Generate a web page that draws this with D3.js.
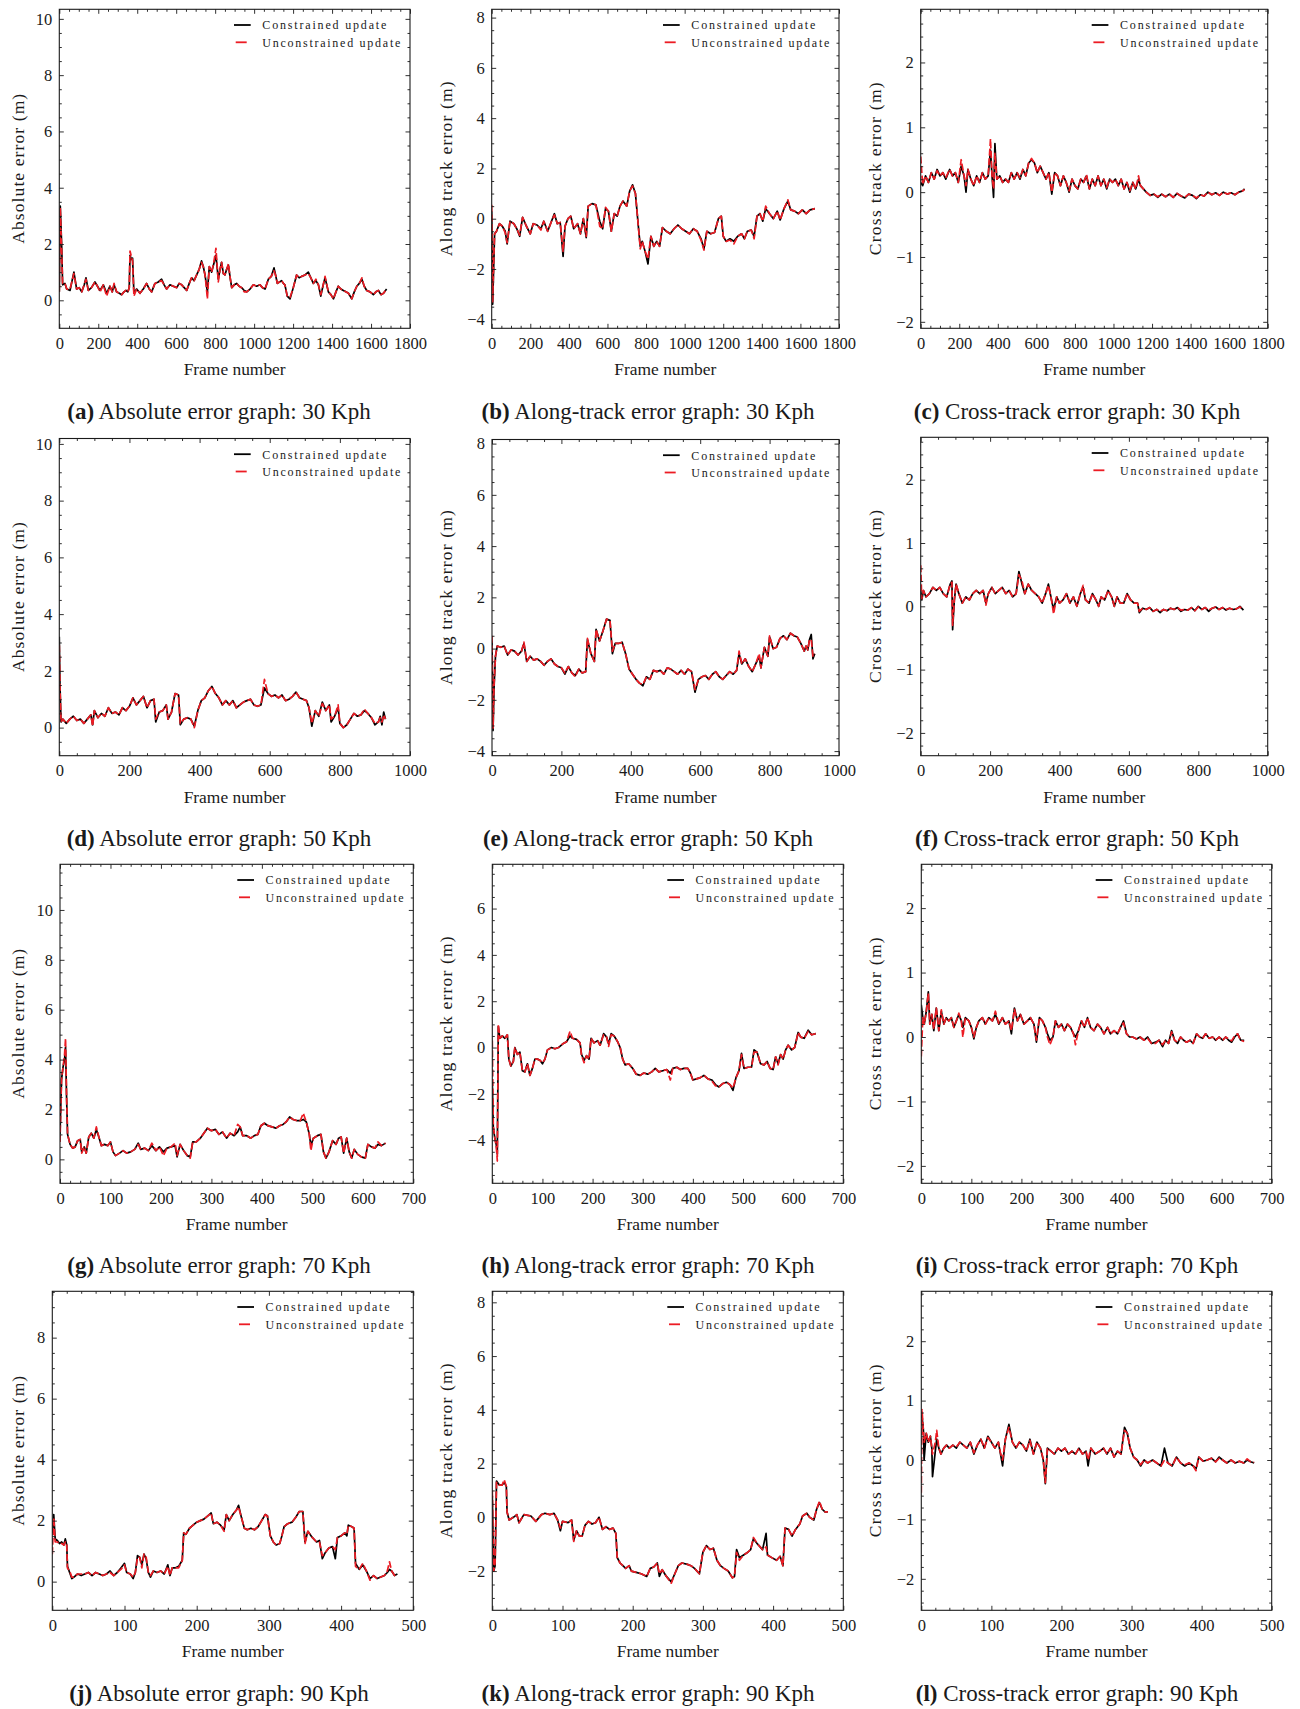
<!DOCTYPE html>
<html>
<head>
<meta charset="utf-8">
<script src="https://cdn.jsdelivr.net/npm/d3@7"></script>
<style>
  body { margin: 0; background: #fff; }
  svg text { font-family: "Liberation Serif", "Times New Roman", serif; fill: #1a1a1a; }
</style>
</head>
<body>
<svg id="fig" width="1300" height="1709"></svg>
<script>
// ---------- tick values ----------
const xTicks1800 = [0, 200, 400, 600, 800, 1000, 1200, 1400, 1600, 1800];
const xTicks1000 = [0, 200, 400, 600, 800, 1000];
const xTicks700 = [0, 100, 200, 300, 400, 500, 600, 700];
const xTicks500 = [0, 100, 200, 300, 400, 500];
const yTicksAbs10 = [0, 2, 4, 6, 8, 10];
const yTicksAbs8 = [0, 2, 4, 6, 8];
const yTicksAlong8 = [-4, -2, 0, 2, 4, 6, 8];
const yTicksAlong6 = [-4, -2, 0, 2, 4, 6];
const yTicksAlong90 = [-2, 0, 2, 4, 6, 8];
const yTicksCross = [-2, -1, 0, 1, 2];

// ---------- labels ----------
const seriesNames = ["Constrained update", "Unconstrained update"];
const yLabels = ["Absolute error (m)", "Along track error (m)", "Cross track error (m)"];
const xLabel = "Frame number";
const captionTags = ["(a)", "(b)", "(c)", "(d)", "(e)", "(f)", "(g)", "(h)", "(i)", "(j)", "(k)", "(l)"];
const captionTexts = [
  "Absolute error graph: 30 Kph", "Along-track error graph: 30 Kph", "Cross-track error graph: 30 Kph",
  "Absolute error graph: 50 Kph", "Along-track error graph: 50 Kph", "Cross-track error graph: 50 Kph",
  "Absolute error graph: 70 Kph", "Along-track error graph: 70 Kph", "Cross-track error graph: 70 Kph",
  "Absolute error graph: 90 Kph", "Along-track error graph: 90 Kph", "Cross-track error graph: 90 Kph"
];

// ---------- 30 Kph: absolute error ----------
const framesA = [
  0,5,12,17,29,38,55,75,89,102,
  115,128,137,149,165,183,196,209,226,243,
  260,272,281,294,308,320,332,342,352,359,
  363,370,376,383,397,414,431,448,462,474,
  491,508,525,538,551,568,585,603,615,628,
  641,654,667,679,692,705,718,730,739,748,
  754,760,770,782,793,804,816,825,833,842,
  850,859,868,877,885,898,910,923,936,949,
  962,979,996,1013,1030,1043,1056,1073,1088,1102,
  1110,1119,1130,1141,1150,1158,1170,1184,1201,1218,
  1231,1244,1261,1278,1291,1304,1317,1330,1342,1353,
  1364,1381,1394,1407,1420,1432,1445,1458,1471,1484,
  1501,1514,1527,1540,1553,1565,1578,1595,1612,1625,
  1638,1651,1664,1680];
const constrainedA = [
  0.3,3.35,2.0,0.55,0.6,0.4,0.35,1.0,0.4,0.45,
  0.3,0.55,0.8,0.35,0.45,0.65,0.5,0.35,0.55,0.25,
  0.5,0.3,0.55,0.3,0.25,0.2,0.3,0.35,0.3,0.45,
  1.6,1.45,1.5,0.25,0.4,0.25,0.4,0.6,0.4,0.3,
  0.6,0.65,0.75,0.55,0.4,0.55,0.5,0.45,0.6,0.55,
  0.45,0.35,0.6,0.8,0.7,0.9,1.1,1.4,1.2,0.9,
  0.6,0.3,1.2,1.0,1.3,1.6,0.75,1.1,1.35,0.95,
  0.9,1.1,1.25,0.8,0.45,0.55,0.6,0.5,0.45,0.35,
  0.3,0.4,0.55,0.5,0.55,0.45,0.4,0.75,0.85,1.15,
  0.9,0.6,0.65,0.7,0.6,0.55,0.15,0.05,0.45,0.9,
  0.8,0.85,0.9,1.0,0.8,0.6,0.7,0.55,0.15,0.5,
  0.8,0.3,0.2,0.05,0.3,0.5,0.4,0.35,0.3,0.25,
  0.05,0.3,0.5,0.6,0.75,0.5,0.35,0.3,0.2,0.3,
  0.35,0.2,0.25,0.4];
const unconstrainedA = [
  0.3,3.3,1.8,0.6,0.6,0.4,0.4,0.95,0.4,0.45,
  0.3,0.55,0.75,0.35,0.45,0.65,0.5,0.3,0.55,0.15,
  0.5,0.3,0.6,0.3,0.25,0.2,0.3,0.35,0.3,0.45,
  1.75,1.55,1.4,0.15,0.4,0.25,0.4,0.6,0.4,0.3,
  0.6,0.65,0.7,0.55,0.4,0.55,0.5,0.45,0.6,0.55,
  0.45,0.35,0.6,0.8,0.7,0.9,1.1,1.35,1.2,0.9,
  0.5,0.05,1.2,1.0,1.35,1.85,0.65,1.1,1.35,0.95,
  0.9,1.1,1.3,0.8,0.45,0.55,0.6,0.5,0.45,0.3,
  0.3,0.4,0.55,0.5,0.55,0.45,0.4,0.75,0.85,1.05,
  0.9,0.6,0.65,0.7,0.6,0.55,0.15,0.1,0.45,0.9,
  0.8,0.85,0.9,0.95,0.8,0.6,0.75,0.55,0.2,0.5,
  0.85,0.3,0.2,0.05,0.3,0.5,0.4,0.35,0.3,0.25,
  0.05,0.3,0.5,0.6,0.8,0.5,0.35,0.3,0.2,0.3,
  0.35,0.2,0.25,0.4];

// ---------- 30 Kph: along-track error ----------
const framesB = [
  0,5,10,15,25,40,55,70,80,95,
  115,130,145,160,180,200,215,235,255,270,
  290,310,325,340,355,370,380,395,410,425,
  445,460,475,490,500,520,540,560,575,590,
  605,620,635,650,665,680,700,715,730,745,
  760,770,780,795,810,825,840,855,870,885,
  905,925,945,965,985,1005,1025,1045,1065,1085,
  1100,1115,1135,1155,1175,1190,1200,1215,1235,1255,
  1275,1295,1310,1325,1345,1360,1375,1390,1405,1420,
  1440,1460,1480,1495,1515,1535,1550,1570,1590,1610,
  1630,1650,1675];
const constrainedB = [
  0.3,-3.4,-2.0,-0.6,-0.5,-0.2,-0.3,-0.5,-1.0,-0.1,
  -0.2,-0.4,-0.7,0.05,-0.3,-0.6,-0.2,-0.25,-0.4,-0.1,
  -0.5,-0.1,0.2,-0.2,-0.15,-1.5,-0.3,0.0,0.1,-0.4,
  -0.2,-0.6,0.0,-0.75,0.5,0.6,0.55,-0.1,-0.4,0.4,
  0.3,-0.5,0.2,0.1,0.5,0.7,0.5,1.1,1.35,1.0,
  -0.3,-1.1,-0.9,-1.3,-1.8,-0.7,-1.1,-0.9,-1.1,-0.35,
  -0.5,-0.6,-0.4,-0.25,-0.4,-0.5,-0.6,-0.4,-0.5,-0.8,
  -1.2,-0.5,-0.6,-0.55,0.0,0.1,-0.7,-0.9,-0.8,-0.9,
  -0.7,-0.6,-0.8,-0.5,-0.45,-0.7,0.1,0.2,-0.1,0.4,
  0.2,0.0,0.3,-0.05,0.4,0.7,0.35,0.3,0.2,0.35,
  0.2,0.35,0.4];
const unconstrainedB = [
  0.55,-3.3,-1.8,-0.6,-0.5,-0.2,-0.3,-0.55,-0.95,-0.1,
  -0.2,-0.4,-0.65,0.05,-0.3,-0.6,-0.2,-0.25,-0.45,-0.1,
  -0.5,-0.1,0.15,-0.2,-0.15,-1.3,-0.3,0.0,0.1,-0.4,
  -0.2,-0.6,0.0,-0.7,0.5,0.6,0.55,-0.3,-0.4,0.45,
  0.3,-0.5,0.2,0.1,0.5,0.7,0.5,1.1,1.3,1.0,
  -0.3,-1.2,-0.9,-1.3,-1.6,-0.7,-1.1,-0.9,-1.1,-0.35,
  -0.5,-0.6,-0.4,-0.25,-0.4,-0.5,-0.6,-0.4,-0.5,-0.85,
  -1.25,-0.5,-0.6,-0.55,0.0,0.1,-0.7,-0.9,-0.85,-1.0,
  -0.7,-0.6,-0.8,-0.5,-0.45,-0.8,0.1,0.2,-0.1,0.5,
  0.2,0.0,0.3,-0.05,0.4,0.75,0.35,0.3,0.2,0.35,
  0.2,0.35,0.4];

// ---------- 30 Kph: cross-track error ----------
const framesC = [
  0,10,25,40,55,70,85,100,115,130,
  150,165,180,195,210,225,235,245,260,275,
  290,305,320,335,350,362,370,378,385,395,
  410,425,440,455,470,485,500,515,530,545,
  560,575,590,605,620,635,650,665,680,695,
  710,725,740,755,770,785,800,815,830,845,
  860,875,890,905,920,935,950,965,980,995,
  1010,1025,1040,1055,1070,1085,1100,1115,1130,1140,
  1155,1170,1190,1210,1230,1250,1270,1290,1310,1330,
  1350,1370,1390,1410,1430,1450,1470,1490,1510,1530,
  1550,1570,1590,1610,1630,1650,1670,1680];
const constrainedC = [
  0.15,0.1,0.25,0.15,0.3,0.2,0.35,0.25,0.3,0.2,
  0.35,0.25,0.3,0.15,0.4,0.25,0.0,0.35,0.2,0.1,
  0.25,0.15,0.3,0.2,0.25,0.65,0.25,-0.08,0.75,0.2,
  0.25,0.15,0.2,0.15,0.3,0.2,0.3,0.2,0.35,0.25,
  0.45,0.5,0.45,0.3,0.4,0.3,0.2,0.3,-0.03,0.3,
  0.25,0.1,0.25,0.15,0.0,0.2,0.1,0.05,0.2,0.15,
  0.25,0.05,0.2,0.1,0.25,0.1,0.2,0.05,0.2,0.15,
  0.2,0.1,0.2,0.05,0.15,0.0,0.15,0.05,0.2,0.1,
  0.05,0.0,-0.05,-0.03,-0.08,-0.03,-0.07,-0.03,-0.08,-0.02,
  -0.06,-0.09,-0.03,-0.05,-0.1,-0.04,-0.06,0.0,-0.04,-0.01,
  -0.05,0.0,-0.03,-0.01,-0.04,0.0,0.02,0.05];
const unconstrainedC = [
  0.55,0.12,0.25,0.15,0.3,0.2,0.33,0.25,0.3,0.22,
  0.35,0.25,0.3,0.15,0.5,0.25,0.1,0.35,0.2,0.1,
  0.25,0.15,0.3,0.2,0.25,0.82,0.25,0.05,0.6,0.2,
  0.25,0.15,0.2,0.15,0.3,0.2,0.3,0.22,0.35,0.25,
  0.45,0.52,0.45,0.3,0.4,0.3,0.2,0.3,0.0,0.3,
  0.25,0.1,0.25,0.15,0.02,0.2,0.1,0.05,0.2,0.15,
  0.27,0.05,0.2,0.1,0.25,0.1,0.2,0.07,0.2,0.15,
  0.2,0.1,0.2,0.05,0.15,0.02,0.15,0.05,0.25,0.1,
  0.05,0.0,-0.05,-0.03,-0.07,-0.03,-0.07,-0.03,-0.08,-0.02,
  -0.06,-0.08,-0.03,-0.05,-0.09,-0.04,-0.06,0.0,-0.04,-0.01,
  -0.05,0.0,-0.03,-0.01,-0.04,0.0,0.02,0.04];

// ---------- 50 Kph: absolute error ----------
const framesD = [
  0,2,5,10,20,30,40,50,60,70,
  80,90,95,100,110,120,130,140,150,160,
  170,180,190,200,210,220,230,240,250,260,
  270,275,285,295,305,310,320,330,340,345,
  355,365,375,385,395,405,415,425,435,445,
  455,465,475,485,495,505,515,525,535,545,
  555,565,575,585,595,605,615,625,635,645,
  655,665,675,685,695,705,712,720,730,740,
  750,760,770,775,785,795,800,810,820,830,
  840,850,860,870,880,890,900,910,915,920,
  925,930];
const constrainedD = [
  3.2,1.5,0.2,0.3,0.15,0.3,0.4,0.25,0.3,0.15,
  0.3,0.45,0.1,0.6,0.35,0.5,0.4,0.7,0.5,0.55,
  0.45,0.7,0.6,0.75,1.05,0.8,0.95,1.1,0.7,0.95,
  1.0,0.2,0.55,0.6,0.8,0.3,0.55,1.2,1.15,0.1,
  0.3,0.35,0.3,0.05,0.6,0.95,1.05,1.3,1.45,1.2,
  1.05,0.8,0.95,0.8,0.95,0.7,0.8,0.9,0.95,1.0,
  0.8,0.75,0.8,1.4,1.2,1.1,1.15,1.05,1.15,0.95,
  1.0,1.1,1.25,1.05,1.0,0.95,0.7,0.05,0.6,0.4,
  0.9,0.6,0.8,0.2,0.4,0.7,0.15,0.0,0.1,0.3,
  0.5,0.4,0.45,0.6,0.5,0.35,0.1,0.2,0.4,0.1,
  0.55,0.3];
const unconstrainedD = [
  2.9,1.4,0.2,0.3,0.15,0.3,0.4,0.25,0.3,0.15,
  0.3,0.45,0.05,0.6,0.35,0.5,0.4,0.7,0.5,0.55,
  0.45,0.7,0.6,0.75,1.05,0.8,0.95,1.1,0.7,0.95,
  1.0,0.3,0.55,0.6,0.8,0.3,0.55,1.2,1.15,0.15,
  0.3,0.35,0.3,0.0,0.6,0.95,1.05,1.3,1.45,1.2,
  1.05,0.8,0.95,0.8,0.95,0.7,0.8,0.9,0.95,1.0,
  0.8,0.75,0.8,1.7,1.2,1.1,1.15,1.05,1.15,0.95,
  1.0,1.1,1.25,1.05,1.0,0.95,0.7,0.15,0.6,0.4,
  0.85,0.6,0.8,0.3,0.4,0.8,0.15,0.0,0.1,0.3,
  0.5,0.4,0.45,0.65,0.5,0.35,0.15,0.2,0.35,0.2,
  0.45,0.3];

// ---------- 50 Kph: along-track error ----------
const framesE = [
  0,3,6,10,15,25,35,45,55,65,
  75,85,92,100,110,120,130,140,150,160,
  170,180,190,200,210,220,230,240,250,260,
  270,275,285,295,300,310,320,330,340,347,
  355,365,375,385,395,405,415,425,435,445,
  455,465,475,485,495,505,515,525,535,545,
  555,565,575,585,595,605,615,625,635,645,
  655,665,675,685,695,705,712,720,730,740,
  750,760,770,775,785,795,800,810,820,830,
  840,850,860,870,880,890,900,905,910,915,
  920,925,930];
const constrainedE = [
  0.3,-3.2,-1.5,-0.3,0.1,0.05,0.1,-0.25,-0.05,-0.1,
  -0.25,-0.1,0.2,-0.5,-0.3,-0.45,-0.4,-0.5,-0.65,-0.5,
  -0.4,-0.6,-0.7,-0.75,-1.0,-0.7,-0.95,-1.05,-0.8,-0.95,
  -0.9,0.35,-0.2,-0.5,0.75,0.3,0.7,1.15,1.1,-0.2,
  0.2,0.2,0.25,-0.2,-0.8,-1.0,-1.2,-1.35,-1.45,-1.1,
  -1.2,-0.85,-0.9,-0.85,-1.0,-0.75,-0.8,-0.9,-1.0,-0.85,
  -1.0,-0.8,-0.9,-1.7,-1.2,-1.1,-1.05,-1.2,-1.0,-0.9,
  -1.1,-1.2,-1.05,-0.9,-1.0,-0.85,-0.2,-0.6,-0.4,-0.7,
  -0.9,-0.6,-0.3,-0.75,0.05,-0.3,0.45,0.0,0.05,0.4,
  0.5,0.35,0.6,0.5,0.45,0.2,-0.1,0.1,-0.05,0.35,
  0.55,-0.4,-0.2];
const unconstrainedE = [
  0.5,-3.1,-1.4,-0.3,0.1,0.05,0.1,-0.25,-0.05,-0.1,
  -0.25,-0.1,0.25,-0.5,-0.3,-0.45,-0.4,-0.5,-0.65,-0.5,
  -0.4,-0.6,-0.7,-0.75,-0.95,-0.7,-0.95,-1.1,-0.8,-0.95,
  -0.9,0.4,-0.2,-0.5,0.75,0.3,0.7,1.15,1.1,-0.1,
  0.2,0.2,0.25,-0.2,-0.8,-1.0,-1.2,-1.35,-1.4,-1.1,
  -1.2,-0.85,-0.9,-0.85,-1.0,-0.75,-0.8,-0.9,-1.0,-0.85,
  -1.0,-0.8,-0.9,-1.6,-1.2,-1.1,-1.05,-1.2,-1.0,-0.9,
  -1.1,-1.2,-1.05,-0.9,-1.0,-0.85,-0.1,-0.6,-0.4,-0.7,
  -0.9,-0.6,-0.2,-0.75,0.05,-0.3,0.5,0.0,0.05,0.4,
  0.5,0.35,0.6,0.5,0.45,0.2,-0.1,0.1,-0.05,0.35,
  0.35,-0.3,-0.2];

// ---------- 50 Kph: cross-track error ----------
const framesF = [
  0,3,8,15,25,35,45,55,65,75,
  85,90,92,97,102,110,120,130,140,150,
  160,170,180,188,195,205,215,225,235,245,
  255,265,275,283,292,300,310,320,330,340,
  350,360,368,377,383,392,400,410,420,430,
  440,450,460,468,475,485,495,505,513,520,
  530,540,550,558,566,575,585,595,605,615,
  625,630,640,650,660,670,680,690,700,710,
  720,730,740,750,760,770,780,790,800,810,
  820,830,840,850,860,870,880,890,900,910,
  920,930];
const constrainedF = [
  0.25,0.1,0.25,0.15,0.2,0.3,0.25,0.3,0.2,0.15,
  0.35,0.4,-0.37,0.1,0.35,0.2,0.05,0.15,0.1,0.2,
  0.25,0.2,0.25,0.05,0.2,0.3,0.2,0.25,0.3,0.2,
  0.25,0.15,0.2,0.55,0.35,0.2,0.35,0.25,0.2,0.15,
  0.05,0.2,0.35,0.1,-0.05,0.15,0.05,0.1,0.2,0.05,
  0.15,0.0,0.2,0.3,0.1,0.05,0.2,0.1,0.0,0.15,
  0.1,0.25,0.15,0.0,0.15,0.05,0.05,0.2,0.1,0.05,
  0.05,-0.1,-0.03,-0.05,-0.02,-0.08,-0.05,-0.1,-0.05,-0.07,
  -0.03,-0.05,-0.02,-0.08,-0.05,-0.06,-0.02,-0.07,0.0,-0.05,
  -0.02,-0.08,-0.03,-0.01,-0.05,-0.02,-0.06,-0.03,-0.05,-0.04,
  0.0,-0.06];
const unconstrainedF = [
  0.65,0.12,0.25,0.15,0.2,0.3,0.25,0.3,0.2,0.15,
  0.35,0.38,-0.3,0.1,0.35,0.2,0.05,0.15,0.1,0.2,
  0.25,0.2,0.25,0.02,0.2,0.3,0.2,0.25,0.3,0.2,
  0.25,0.15,0.2,0.5,0.4,0.2,0.35,0.25,0.2,0.15,
  0.05,0.2,0.33,0.1,-0.12,0.15,0.05,0.1,0.2,0.05,
  0.15,0.0,0.2,0.33,0.1,0.05,0.2,0.1,0.0,0.15,
  0.1,0.25,0.15,0.0,0.15,0.05,0.05,0.2,0.1,0.05,
  0.05,-0.08,-0.03,-0.05,-0.02,-0.08,-0.05,-0.08,-0.05,-0.07,
  -0.03,-0.05,-0.02,-0.06,-0.05,-0.06,-0.02,-0.07,-0.01,-0.05,
  -0.02,-0.06,-0.03,-0.01,-0.05,-0.02,-0.05,-0.03,-0.05,-0.04,
  -0.01,-0.05];

// ---------- 70 Kph: absolute error ----------
const framesG = [
  0,3,6,9,11,13,15,20,25,30,
  35,40,43,48,52,57,62,67,72,77,
  82,88,95,100,105,110,118,125,132,140,
  148,155,160,168,175,182,190,197,205,212,
  220,228,232,238,245,252,258,263,270,278,
  285,292,300,308,315,322,330,337,345,352,
  357,362,370,378,385,392,398,405,412,420,
  428,435,442,448,455,462,470,476,482,488,
  494,497,502,510,517,522,527,533,540,547,
  552,557,562,568,573,578,583,590,597,605,
  610,617,624,630,637,645];
const constrainedG = [
  1.0,3.2,3.7,4.0,4.5,2.5,1.0,0.6,0.45,0.5,
  0.75,0.8,0.3,0.5,0.25,0.9,1.05,0.85,1.2,0.9,
  0.55,0.6,0.55,0.7,0.3,0.15,0.25,0.35,0.25,0.3,
  0.4,0.65,0.4,0.45,0.35,0.55,0.35,0.5,0.3,0.45,
  0.5,0.55,0.1,0.6,0.35,0.15,0.1,0.7,0.7,0.85,
  1.05,1.25,1.15,1.2,1.0,1.1,0.85,1.05,0.95,1.1,
  1.3,0.95,0.95,0.85,0.95,1.0,1.35,1.45,1.35,1.3,
  1.25,1.35,1.4,1.5,1.7,1.6,1.55,1.55,1.6,1.5,
  1.0,0.55,0.85,0.95,1.0,0.3,0.05,0.3,0.75,0.6,
  0.85,0.9,0.25,0.85,0.3,0.05,0.4,0.2,0.1,0.05,
  0.6,0.5,0.45,0.6,0.55,0.65];
const unconstrainedG = [
  0.7,3.2,3.7,4.2,4.85,2.6,1.0,0.6,0.45,0.5,
  0.75,0.8,0.25,0.5,0.25,0.9,1.05,0.85,1.3,0.9,
  0.55,0.6,0.55,0.7,0.3,0.15,0.25,0.35,0.25,0.3,
  0.4,0.6,0.4,0.45,0.35,0.65,0.35,0.5,0.15,0.45,
  0.5,0.65,0.15,0.6,0.35,0.15,0.05,0.7,0.7,0.85,
  1.05,1.25,1.15,1.2,1.0,1.1,0.85,1.05,0.95,1.4,
  1.3,0.95,0.95,0.85,0.95,1.0,1.35,1.45,1.35,1.3,
  1.25,1.35,1.4,1.5,1.7,1.6,1.55,1.55,1.85,1.5,
  1.0,0.35,0.85,0.95,1.0,0.3,0.05,0.3,0.75,0.6,
  0.85,0.9,0.25,0.85,0.3,0.05,0.4,0.2,0.1,0.05,
  0.6,0.5,0.45,0.7,0.55,0.65];

// ---------- 70 Kph: along-track error ----------
const framesH = [
  0,2,5,8,10,12,15,20,25,30,
  33,37,42,45,50,55,60,65,70,75,
  80,85,90,95,100,105,110,118,125,132,
  140,148,155,160,168,175,178,183,188,193,
  197,203,210,215,222,228,232,237,243,250,
  255,260,265,272,280,287,295,302,310,318,
  325,332,340,348,355,360,368,375,382,390,
  395,400,407,415,422,430,438,445,452,460,
  467,474,480,486,492,497,502,510,517,522,
  528,535,542,548,554,560,565,570,575,580,
  585,590,597,603,610,615,622,630,637,645];
const constrainedH = [
  -1.5,-3.5,-3.9,-4.2,-4.6,0.9,0.4,0.5,0.4,0.55,
  -0.5,-0.8,-0.6,0.0,-0.3,-0.2,-1.0,-1.05,-0.7,-1.2,
  -0.9,-0.5,-0.5,-0.55,-0.7,-0.5,-0.1,0.0,-0.05,0.0,
  0.15,0.25,0.5,0.4,0.35,0.2,-0.3,-0.55,-0.35,-0.5,
  0.4,0.2,0.3,0.1,0.6,0.45,0.15,0.6,0.5,0.25,
  0.0,-0.5,-0.75,-0.7,-0.9,-1.15,-1.2,-1.1,-1.15,-1.05,
  -0.9,-1.05,-1.0,-0.95,-1.1,-0.9,-0.85,-0.95,-0.9,-0.9,
  -1.1,-1.4,-1.35,-1.3,-1.2,-1.35,-1.4,-1.6,-1.7,-1.55,
  -1.5,-1.6,-1.85,-1.3,-1.0,-0.25,-0.9,-0.85,-0.85,-0.1,
  -0.2,-0.7,-0.75,-0.6,-0.9,-0.95,-0.4,-0.7,-0.3,-0.5,
  -0.1,0.1,-0.1,0.0,0.65,0.45,0.4,0.75,0.55,0.6];
const unconstrainedH = [
  0.3,-3.4,-3.9,-4.3,-4.9,1.0,0.4,0.5,0.4,0.55,
  -0.5,-0.8,-0.6,0.0,-0.3,-0.2,-1.0,-1.05,-0.7,-1.2,
  -0.9,-0.5,-0.5,-0.55,-0.65,-0.5,-0.1,0.0,-0.05,0.0,
  0.15,0.25,0.7,0.4,0.35,0.2,-0.35,-0.65,-0.35,-0.5,
  0.4,0.2,0.3,0.1,0.55,0.45,0.05,0.55,0.5,0.25,
  0.0,-0.5,-0.75,-0.7,-0.9,-1.15,-1.2,-1.1,-1.15,-1.05,
  -0.9,-1.05,-1.0,-0.95,-1.4,-0.9,-0.85,-0.95,-0.9,-0.9,
  -1.1,-1.4,-1.35,-1.3,-1.2,-1.35,-1.45,-1.65,-1.7,-1.55,
  -1.5,-1.6,-1.75,-1.3,-1.0,-0.3,-0.9,-0.85,-0.85,-0.2,
  -0.2,-0.7,-0.75,-0.6,-0.9,-0.95,-0.4,-0.75,-0.3,-0.5,
  -0.1,0.1,-0.1,0.0,0.65,0.45,0.4,0.7,0.55,0.6];

// ---------- 70 Kph: cross-track error ----------
const framesI = [
  0,3,6,10,14,17,21,25,30,35,
  40,45,50,55,60,65,70,75,80,83,
  88,95,100,105,110,115,122,128,135,142,
  148,155,162,168,175,180,186,192,198,205,
  212,218,225,230,236,242,248,252,257,263,
  268,274,280,286,292,298,304,308,314,320,
  326,332,338,345,352,358,365,372,378,385,
  392,398,404,410,416,422,430,437,445,452,
  460,468,475,482,488,494,500,506,512,518,
  524,530,537,543,550,556,562,568,575,582,
  588,595,602,608,614,620,626,632,638,645];
const constrainedI = [
  0.5,0.3,0.2,0.4,0.7,0.2,0.35,0.1,0.45,0.1,
  0.4,0.2,0.3,0.25,0.3,0.15,0.25,0.35,0.25,0.15,
  0.3,0.25,0.15,-0.03,0.15,0.25,0.3,0.2,0.3,0.25,
  0.35,0.2,0.3,0.2,0.25,0.05,0.45,0.25,0.35,0.2,
  0.25,0.3,0.2,-0.08,0.3,0.25,0.15,0.05,-0.05,0.0,
  0.25,0.15,0.2,0.1,0.2,0.15,0.05,0.0,0.1,0.25,
  0.15,0.3,0.15,0.1,0.2,0.15,0.05,0.15,0.05,0.1,
  0.05,0.15,0.25,0.05,0.0,0.0,-0.03,0.0,-0.05,0.0,
  -0.1,-0.08,-0.05,-0.15,-0.05,-0.1,0.1,-0.05,-0.1,0.0,
  -0.05,-0.08,-0.05,-0.1,0.05,0.0,-0.02,0.05,-0.02,0.0,
  -0.05,0.0,-0.05,0.0,-0.05,-0.08,0.0,0.05,-0.05,-0.05];
const unconstrainedI = [
  -0.3,0.3,0.2,0.4,0.68,0.2,0.35,0.12,0.45,0.1,
  0.42,0.2,0.3,0.25,0.3,0.15,0.25,0.37,0.25,0.0,
  0.3,0.25,0.15,0.0,0.15,0.25,0.3,0.2,0.3,0.25,
  0.4,0.2,0.3,0.2,0.25,0.1,0.43,0.25,0.35,0.2,
  0.25,0.3,0.2,-0.05,0.3,0.25,0.15,0.0,-0.12,0.0,
  0.25,0.15,0.2,0.1,0.2,0.15,0.05,-0.12,0.1,0.25,
  0.15,0.3,0.15,0.1,0.2,0.15,0.05,0.15,0.05,0.1,
  0.05,0.15,0.22,0.05,0.0,0.0,-0.03,0.0,-0.05,-0.02,
  -0.1,-0.1,-0.05,-0.12,-0.05,-0.1,0.08,-0.05,-0.08,0.0,
  -0.05,-0.08,-0.05,-0.1,0.05,0.0,-0.02,0.05,-0.02,0.0,
  -0.05,0.0,-0.05,0.0,-0.03,-0.06,0.02,0.05,-0.05,-0.07];

// ---------- 90 Kph: absolute error ----------
const framesJ = [
  0,2,4,7,10,13,16,18,20,21,
  24,27,30,35,40,45,50,55,60,65,
  70,75,80,85,90,95,100,103,108,112,
  115,118,121,124,127,130,133,136,140,145,
  150,155,160,163,166,170,175,180,182,185,
  190,195,200,205,210,215,220,223,228,233,
  238,241,245,250,255,258,262,266,270,275,
  280,285,290,295,298,302,306,310,315,318,
  321,326,332,337,342,347,350,354,360,366,
  370,374,378,383,388,392,395,400,405,408,
  410,415,418,420,425,430,435,440,445,450,
  455,460,464,467,470,474,478];
const constrainedJ = [
  1.6,2.2,1.4,1.35,1.25,1.3,1.2,1.4,1.2,0.5,
  0.3,0.1,0.15,0.25,0.2,0.25,0.3,0.2,0.3,0.25,
  0.2,0.25,0.35,0.2,0.3,0.45,0.6,0.3,0.25,0.1,
  0.3,0.85,0.8,0.55,0.9,0.75,0.3,0.15,0.35,0.3,
  0.35,0.25,0.55,0.2,0.45,0.45,0.5,0.7,1.6,1.55,
  1.75,1.85,1.95,2.0,2.05,2.15,2.25,1.9,1.95,1.85,
  1.7,2.2,2.0,2.2,2.35,2.5,2.1,1.75,1.7,1.75,
  1.7,1.8,2.0,2.2,2.15,1.5,1.3,1.2,1.25,1.5,
  1.8,1.9,1.95,2.1,2.3,2.3,1.3,1.65,1.45,1.3,
  1.35,0.75,0.95,1.1,1.15,0.75,1.45,1.5,1.6,1.5,
  1.85,1.8,1.75,0.6,0.4,0.55,0.35,0.1,0.2,0.1,
  0.15,0.2,0.3,0.4,0.35,0.2,0.25];
const unconstrainedJ = [
  0.9,2.1,1.3,1.3,1.25,1.25,1.2,1.3,1.2,0.45,
  0.35,0.15,0.15,0.25,0.25,0.25,0.3,0.2,0.3,0.25,
  0.2,0.25,0.3,0.2,0.3,0.4,0.55,0.3,0.25,0.15,
  0.3,0.8,0.8,0.45,0.9,0.8,0.3,0.2,0.35,0.3,
  0.35,0.25,0.5,0.2,0.45,0.45,0.45,0.7,1.6,1.55,
  1.75,1.85,1.95,2.0,2.05,2.15,2.25,1.9,1.95,1.85,
  1.65,2.2,2.0,2.2,2.35,2.45,2.1,1.75,1.7,1.75,
  1.7,1.8,2.0,2.2,2.15,1.5,1.3,1.2,1.25,1.5,
  1.8,1.9,1.95,2.1,2.3,2.3,1.25,1.65,1.45,1.3,
  1.3,0.85,0.95,1.1,1.15,1.05,1.45,1.5,1.6,1.55,
  1.85,1.8,1.75,0.5,0.4,0.6,0.35,0.05,0.2,0.1,
  0.15,0.2,0.35,0.65,0.35,0.2,0.25];

// ---------- 90 Kph: along-track error ----------
const framesK = [
  0,2,4,6,10,14,17,20,21,24,
  30,35,38,45,55,62,70,75,82,88,
  93,97,100,108,113,116,120,124,128,132,
  137,142,147,152,157,162,167,172,176,178,
  182,186,190,195,198,205,212,220,225,230,
  235,238,242,248,255,260,265,270,278,283,
  288,295,300,305,310,315,320,325,330,336,
  342,345,348,352,358,364,368,372,378,385,
  390,392,398,405,410,414,417,422,427,432,
  438,442,448,452,458,462,466,470,474,478];
const constrainedK = [
  0.8,-2.0,-1.8,1.35,1.2,1.2,1.3,1.15,0.2,-0.1,
  0.0,0.1,-0.2,0.1,0.05,-0.15,0.1,0.15,0.1,0.15,
  -0.1,-0.5,-0.15,-0.2,-0.1,-0.85,-0.5,-0.7,-0.7,-0.3,
  -0.15,-0.25,-0.2,0.0,-0.45,-0.35,-0.45,-0.4,-0.6,-1.5,
  -1.7,-1.8,-1.9,-1.8,-2.0,-2.05,-2.1,-2.2,-1.9,-1.85,
  -1.7,-2.2,-1.95,-2.2,-2.4,-2.1,-1.8,-1.7,-1.75,-1.8,
  -1.9,-2.1,-1.3,-1.05,-1.2,-1.15,-1.6,-1.8,-1.9,-2.0,
  -2.25,-2.2,-1.2,-1.5,-1.4,-1.3,-1.2,-0.8,-1.0,-1.2,
  -0.6,-1.4,-1.5,-1.6,-1.45,-1.8,-0.4,-0.45,-0.7,-0.45,
  -0.25,0.05,0.15,0.0,-0.1,0.3,0.55,0.3,0.2,0.2];
const unconstrainedK = [
  1.0,-2.0,-1.7,1.3,1.2,1.2,1.4,1.15,0.2,-0.1,
  0.0,0.1,-0.2,0.1,0.05,-0.15,0.1,0.15,0.1,0.15,
  -0.1,-0.4,-0.15,-0.2,-0.1,-0.9,-0.5,-0.7,-0.7,-0.3,
  -0.15,-0.25,-0.2,0.0,-0.45,-0.35,-0.45,-0.4,-0.6,-1.5,
  -1.7,-1.8,-1.9,-1.8,-2.0,-2.05,-2.1,-2.2,-1.9,-1.85,
  -1.7,-2.1,-1.95,-2.2,-2.45,-2.1,-1.8,-1.7,-1.75,-1.8,
  -1.9,-2.1,-1.3,-1.05,-1.2,-1.15,-1.6,-1.8,-1.9,-2.0,
  -2.25,-2.2,-1.3,-1.6,-1.4,-1.3,-1.2,-0.75,-1.0,-1.2,
  -1.1,-1.4,-1.5,-1.6,-1.45,-1.8,-0.4,-0.45,-0.7,-0.45,
  -0.25,0.05,0.15,0.0,-0.1,0.3,0.6,0.3,0.2,0.2];

// ---------- 90 Kph: cross-track error ----------
const framesL = [
  0,1,3,4,7,10,13,15,16,20,
  22,25,28,32,36,40,45,50,55,60,
  65,70,75,80,85,90,95,100,105,110,
  113,116,120,125,130,135,140,145,150,155,
  160,165,170,174,177,180,185,190,195,200,
  205,210,215,220,225,230,235,238,242,248,
  255,260,265,270,275,280,285,290,294,298,
  303,308,313,318,323,330,336,342,347,352,
  358,364,370,376,382,388,392,396,402,408,
  414,420,425,430,436,442,448,454,460,465,
  470,475];
const constrainedL = [
  0.7,0.75,0.5,0.0,0.45,0.3,0.4,0.2,-0.28,0.15,
  0.35,0.2,0.1,0.2,0.25,0.2,0.25,0.2,0.3,0.25,
  0.2,0.3,0.1,0.25,0.35,0.2,0.4,0.3,0.2,0.3,
  0.1,-0.1,0.35,0.6,0.3,0.2,0.3,0.25,0.15,0.35,
  0.1,0.3,0.2,0.0,-0.4,0.2,0.15,0.1,0.2,0.15,
  0.2,0.1,0.15,0.1,0.2,0.1,0.15,-0.1,0.2,0.1,
  0.15,0.2,0.1,0.2,0.05,0.15,0.1,0.55,0.45,0.2,
  0.05,0.0,-0.1,0.0,-0.05,0.0,-0.05,-0.1,0.2,-0.05,
  -0.1,0.05,-0.05,-0.1,-0.05,-0.1,-0.15,0.05,-0.02,0.0,
  0.03,-0.03,0.05,0.0,-0.05,0.0,-0.05,-0.02,-0.05,0.0,
  -0.03,-0.05];
const unconstrainedL = [
  -0.55,0.85,0.5,0.3,0.45,0.3,0.4,0.2,0.1,0.3,
  0.5,0.2,0.1,0.2,0.25,0.2,0.25,0.22,0.3,0.25,
  0.2,0.3,0.12,0.25,0.35,0.2,0.38,0.3,0.2,0.3,
  0.12,0.0,0.35,0.55,0.3,0.2,0.3,0.25,0.15,0.33,
  0.1,0.3,0.2,0.02,-0.38,0.2,0.15,0.1,0.2,0.15,
  0.2,0.1,0.15,0.1,0.2,0.1,0.15,0.0,0.2,0.1,
  0.15,0.2,0.1,0.2,0.05,0.15,0.1,0.5,0.45,0.2,
  0.05,0.0,-0.08,0.0,-0.05,0.0,-0.05,-0.1,0.0,-0.05,
  -0.1,0.05,-0.05,-0.08,-0.05,-0.1,-0.18,0.05,-0.02,0.0,
  0.03,-0.03,0.03,0.0,-0.05,0.0,-0.05,-0.02,-0.05,0.02,
  -0.03,-0.04];

// ---------- panel layout (plot box: left, top, right, bottom) ----------
const panels = [
  { frames: framesA, con: constrainedA, unc: unconstrainedA, xMax: 1800, xTicks: xTicks1800, yTicks: yTicksAbs10,  yDomain: [-0.995, 10.34], box: [59.3, 9.3, 410, 328.3] },
  { frames: framesB, con: constrainedB, unc: unconstrainedB, xMax: 1800, xTicks: xTicks1800, yTicks: yTicksAlong8, yDomain: [-4.36, 8.33],   box: [491.7, 9.3, 839, 328.3] },
  { frames: framesC, con: constrainedC, unc: unconstrainedC, xMax: 1800, xTicks: xTicks1800, yTicks: yTicksCross,  yDomain: [-2.10, 2.82],   box: [920.7, 9.3, 1267.7, 328.3] },
  { frames: framesD, con: constrainedD, unc: unconstrainedD, xMax: 1000, xTicks: xTicks1000, yTicks: yTicksAbs10,  yDomain: [-0.99, 10.19],  box: [59.3, 438.5, 410, 755.7] },
  { frames: framesE, con: constrainedE, unc: unconstrainedE, xMax: 1000, xTicks: xTicks1000, yTicks: yTicksAlong8, yDomain: [-4.18, 8.16],   box: [492, 439.5, 839, 755.7] },
  { frames: framesF, con: constrainedF, unc: unconstrainedF, xMax: 1000, xTicks: xTicks1000, yTicks: yTicksCross,  yDomain: [-2.36, 2.67],   box: [920.7, 437.3, 1267.7, 755.7] },
  { frames: framesG, con: constrainedG, unc: unconstrainedG, xMax: 700,  xTicks: xTicks700,  yTicks: yTicksAbs10,  yDomain: [-0.96, 11.83],  box: [60, 864.3, 413.3, 1183.3] },
  { frames: framesH, con: constrainedH, unc: unconstrainedH, xMax: 700,  xTicks: xTicks700,  yTicks: yTicksAlong6, yDomain: [-5.86, 7.91],   box: [492.3, 864.3, 843.3, 1183.3] },
  { frames: framesI, con: constrainedI, unc: unconstrainedI, xMax: 700,  xTicks: xTicks700,  yTicks: yTicksCross,  yDomain: [-2.27, 2.68],   box: [921.3, 864.3, 1271.7, 1183.3] },
  { frames: framesJ, con: constrainedJ, unc: unconstrainedJ, xMax: 500,  xTicks: xTicks500,  yTicks: yTicksAbs8,   yDomain: [-0.94, 9.52],   box: [52.3, 1291.3, 413.3, 1610.3] },
  { frames: framesK, con: constrainedK, unc: unconstrainedK, xMax: 500,  xTicks: xTicks500,  yTicks: yTicksAlong90,yDomain: [-3.46, 8.41],   box: [492.3, 1291.3, 843.3, 1610.3] },
  { frames: framesL, con: constrainedL, unc: unconstrainedL, xMax: 500,  xTicks: xTicks500,  yTicks: yTicksCross,  yDomain: [-2.53, 2.84],   box: [921.3, 1291.3, 1271.7, 1610.3] }
];

const captionBaseline = [419, 846, 1273, 1701];
const captionCenter = [219, 648, 1077];
const yLabelX = [18, 446.7, 875];
const yLabelLen = [150, 175, 173];

const RED = "#ec1c24";
const INK = "#1a1a1a";
const FONT = '"Liberation Serif", "Times New Roman", serif';

const svg = d3.select("#fig");
const defs = svg.append("defs");

// minor tick positions between (and beyond) the majors
function minorTicks(domain, majors) {
  const step = majors[1] - majors[0];
  const sub = (step === 1 || step === 100 || step === 5) ? 5 : 4;
  const m = step / sub;
  const lo = Math.ceil(domain[0] / m - 1e-9), hi = Math.floor(domain[1] / m + 1e-9);
  return d3.range(lo, hi + 1).map(k => +(k * m).toFixed(6))
    .filter(v => !majors.some(t => Math.abs(t - v) < 1e-9));
}

function styleAxis(g, withText) {
  g.select(".domain").remove();
  g.selectAll(".tick line").attr("stroke", INK).attr("stroke-width", 0.9);
  if (withText) {
    g.selectAll(".tick text").attr("fill", INK).attr("font-family", FONT).attr("font-size", 16.5);
  }
}

panels.forEach((p, i) => {
  const row = Math.floor(i / 3), col = i % 3;
  const [L, T, R, B] = p.box;
  const x = d3.scaleLinear().domain([0, p.xMax]).range([L, R]);
  const y = d3.scaleLinear().domain(p.yDomain).range([B, T]);
  const g = svg.append("g").attr("class", "panel");

  const clipId = "clip" + i;
  defs.append("clipPath").attr("id", clipId)
    .append("rect").attr("x", L).attr("y", T).attr("width", R - L).attr("height", B - T);

  const n = Math.min(p.frames.length, p.con.length, p.unc.length);
  const line = d3.line().x(d => x(d[0])).y(d => y(d[1]));
  const conPts = d3.range(n).map(k => [p.frames[k], p.con[k]]);
  const uncPts = d3.range(n).map(k => [p.frames[k], p.unc[k]]);

  const plot = g.append("g").attr("clip-path", `url(#${clipId})`);
  plot.append("path").attr("d", line(conPts))
    .attr("fill", "none").attr("stroke", "#000").attr("stroke-width", 1.7)
    .attr("stroke-linejoin", "round");
  plot.append("path").attr("d", line(uncPts))
    .attr("fill", "none").attr("stroke", RED).attr("stroke-width", 1.7)
    .attr("stroke-dasharray", "7,2.6").attr("stroke-linejoin", "round");

  // major / minor ticks on all four sides, pointing inward
  const xMinor = minorTicks([0, p.xMax], p.xTicks);
  const yMinor = minorTicks(p.yDomain, p.yTicks);
  const fmt = d3.format("d");

  g.append("g").attr("transform", `translate(0,${B})`)
    .call(d3.axisBottom(x).tickValues(p.xTicks).tickSizeInner(-4.5).tickSizeOuter(0).tickPadding(8.7).tickFormat(fmt))
    .call(s => styleAxis(s, true));
  g.append("g").attr("transform", `translate(0,${B})`)
    .call(d3.axisBottom(x).tickValues(xMinor).tickSizeInner(-2.5).tickSizeOuter(0).tickFormat(""))
    .call(s => styleAxis(s, false));
  g.append("g").attr("transform", `translate(0,${T})`)
    .call(d3.axisTop(x).tickValues(p.xTicks).tickSizeInner(-4.5).tickSizeOuter(0).tickFormat(""))
    .call(s => styleAxis(s, false));
  g.append("g").attr("transform", `translate(0,${T})`)
    .call(d3.axisTop(x).tickValues(xMinor).tickSizeInner(-2.5).tickSizeOuter(0).tickFormat(""))
    .call(s => styleAxis(s, false));

  g.append("g").attr("transform", `translate(${L},0)`)
    .call(d3.axisLeft(y).tickValues(p.yTicks).tickSizeInner(-4.5).tickSizeOuter(0).tickPadding(7).tickFormat(fmt))
    .call(s => styleAxis(s, true));
  g.append("g").attr("transform", `translate(${L},0)`)
    .call(d3.axisLeft(y).tickValues(yMinor).tickSizeInner(-2.5).tickSizeOuter(0).tickFormat(""))
    .call(s => styleAxis(s, false));
  g.append("g").attr("transform", `translate(${R},0)`)
    .call(d3.axisRight(y).tickValues(p.yTicks).tickSizeInner(-4.5).tickSizeOuter(0).tickFormat(""))
    .call(s => styleAxis(s, false));
  g.append("g").attr("transform", `translate(${R},0)`)
    .call(d3.axisRight(y).tickValues(yMinor).tickSizeInner(-2.5).tickSizeOuter(0).tickFormat(""))
    .call(s => styleAxis(s, false));

  // frame
  g.append("rect").attr("x", L).attr("y", T).attr("width", R - L).attr("height", B - T)
    .attr("fill", "none").attr("stroke", INK).attr("stroke-width", 1.1);

  // axis labels
  g.append("text").attr("x", (L + R) / 2).attr("y", B + 47)
    .attr("text-anchor", "middle").attr("font-size", 17.5)
    .attr("textLength", 102).attr("lengthAdjust", "spacingAndGlyphs")
    .text(xLabel);
  const ly = (T + B) / 2, lx = yLabelX[col] + 5.5;
  g.append("text").attr("transform", `translate(${lx},${ly}) rotate(-90)`)
    .attr("text-anchor", "middle").attr("font-size", 17.5)
    .attr("textLength", yLabelLen[col]).attr("lengthAdjust", "spacing")
    .text(yLabels[col]);

  // legend
  const lg = g.append("g");
  lg.append("line").attr("x1", R - 176).attr("x2", R - 159.3).attr("y1", T + 15.7).attr("y2", T + 15.7)
    .attr("stroke", "#000").attr("stroke-width", 1.8);
  lg.append("line").attr("x1", R - 174.3).attr("x2", R - 163.3).attr("y1", T + 33).attr("y2", T + 33)
    .attr("stroke", RED).attr("stroke-width", 1.8);
  lg.append("text").attr("x", R - 147.7).attr("y", T + 20).attr("font-size", 12)
    .attr("textLength", 124).attr("lengthAdjust", "spacing").text(seriesNames[0]);
  lg.append("text").attr("x", R - 147.7).attr("y", T + 37.4).attr("font-size", 12)
    .attr("textLength", 138).attr("lengthAdjust", "spacing").text(seriesNames[1]);

  // sub-caption
  const cap = svg.append("text").attr("x", captionCenter[col]).attr("y", captionBaseline[row])
    .attr("text-anchor", "middle").attr("font-size", 23);
  cap.append("tspan").attr("font-weight", "bold").text(captionTags[i]);
  cap.append("tspan").text(" " + captionTexts[i]);
});
</script>
</body>
</html>
